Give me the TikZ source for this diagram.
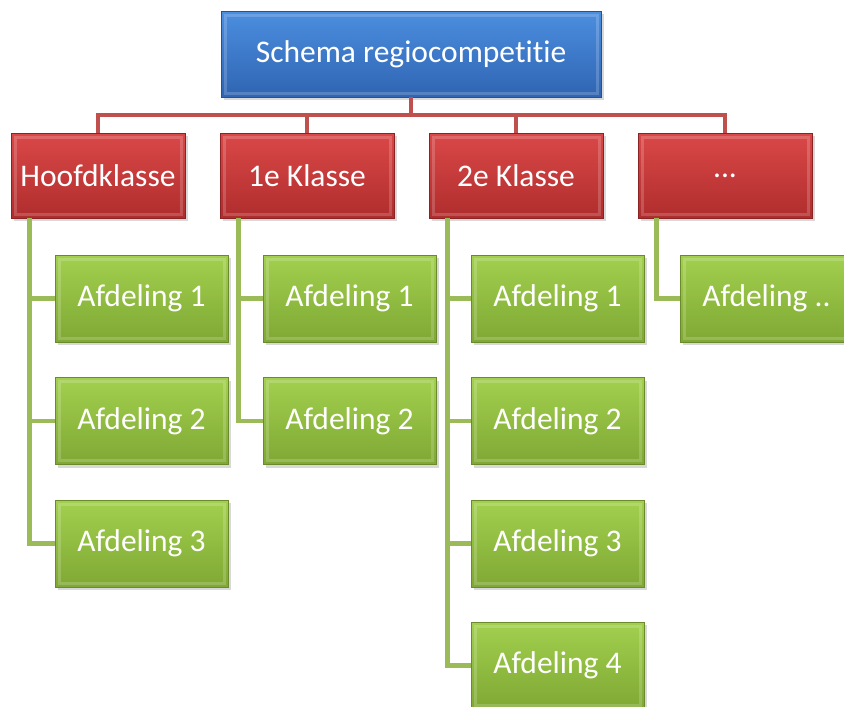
\documentclass[tikz,border=0pt]{standalone}
\usepackage{fontspec}
\setmainfont[Ligatures={NoCommon,NoRare,NoDiscretionary}]{Carlito}
\usetikzlibrary{shadows}
\definecolor{bluetop}{HTML}{4C8EE0}
\definecolor{bluebot}{HTML}{2F65B2}
\definecolor{blueedge}{HTML}{27528F}
\definecolor{redtop}{HTML}{DA4848}
\definecolor{redbot}{HTML}{B02D2D}
\definecolor{rededge}{HTML}{8A2424}
\definecolor{greentop}{HTML}{A2D04E}
\definecolor{greenbot}{HTML}{7FA834}
\definecolor{greenedge}{HTML}{6A8A2C}
\definecolor{redline}{HTML}{C0504D}
\definecolor{greenline}{HTML}{9BBB59}
\tikzset{
  basebox/.style={rectangle, inner sep=0pt, text=white,
    font=\fontsize{31.5}{38}\selectfont,
    drop shadow={shadow xshift=3pt, shadow yshift=-3pt, opacity=0.3},
    path picture={\draw[white, opacity=0.18, line width=3pt]
      ([shift={(4pt,-4pt)}]path picture bounding box.north west) rectangle
      ([shift={(-4pt,4pt)}]path picture bounding box.south east);}},
  topbox/.style={basebox, minimum width=380pt, minimum height=86pt,
    top color=bluetop, bottom color=bluebot, draw=blueedge, line width=0.8pt},
  catbox/.style={basebox, minimum width=174pt, minimum height=85pt,
    top color=redtop, bottom color=redbot, draw=rededge, line width=0.8pt},
  divbox/.style={basebox, minimum width=173pt, minimum height=87pt,
    top color=greentop, bottom color=greenbot, draw=greenedge, line width=0.8pt},
  redcon/.style={draw=redline, line width=4.5pt},
  greencon/.style={draw=greenline, line width=4.5pt}
}
\begin{document}
\begin{tikzpicture}[x=1pt, y=-1pt]
\useasboundingbox (0,0) rectangle (844,707);
\clip (0,0) rectangle (844,707);
\fill[white] (0,0) rectangle (844,707);
\coordinate (bar) at (411,115);
\node[topbox] (top) at (411,54) {Schema regiocompet\kern0pt iti\kern0pt e};
\node[catbox] (c1) at (98,175.5) {Hoofdklasse};
\node[catbox] (c2) at (307,175.5) {1e Klasse};
\node[catbox] (c3) at (516,175.5) {2e Klasse};
\node[catbox] (c4) at (725,175.5) {{.}{.}{.}};
\node[divbox] (g11) at (141.5,298.5) {Afdeling 1};
\node[divbox] (g12) at (141.5,421) {Afdeling 2};
\node[divbox] (g13) at (141.5,543.5) {Afdeling 3};
\node[divbox] (g21) at (349.5,298.5) {Afdeling 1};
\node[divbox] (g22) at (349.5,421) {Afdeling 2};
\node[divbox] (g31) at (557.5,298.5) {Afdeling 1};
\node[divbox] (g32) at (557.5,421) {Afdeling 2};
\node[divbox] (g33) at (557.5,543.5) {Afdeling 3};
\node[divbox] (g34) at (557.5,665.5) {Afdeling 4};
\node[divbox] (g41) at (766.5,298.5) {Afdeling ..};
% connectors
\draw[redcon] (top.south) -- (bar);
\foreach \c in {c1,c2,c3,c4} \draw[redcon] (\c.north) |- (bar);
\foreach \g in {g11,g12,g13} \draw[greencon] ([xshift=19pt]c1.south west) |- (\g.west);
\foreach \g in {g21,g22} \draw[greencon] ([xshift=19pt]c2.south west) |- (\g.west);
\foreach \g in {g31,g32,g33,g34} \draw[greencon] ([xshift=19pt]c3.south west) |- (\g.west);
\foreach \g in {g41} \draw[greencon] ([xshift=19pt]c4.south west) |- (\g.west);
\end{tikzpicture}
\end{document}
